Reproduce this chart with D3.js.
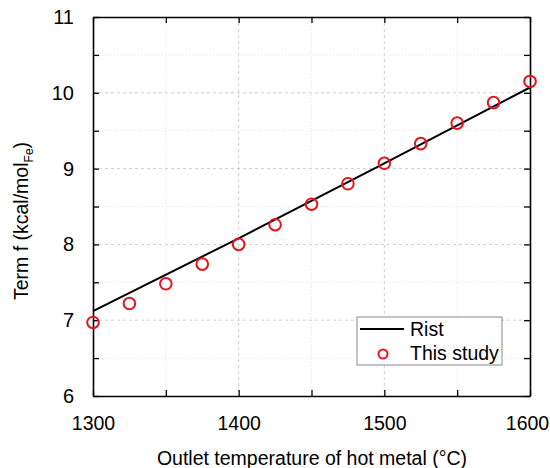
<!DOCTYPE html>
<html><head><meta charset="utf-8">
<script src="https://cdn.jsdelivr.net/npm/d3@7"></script>
<style>body{margin:0;background:#fff}svg text{font-family:"Liberation Sans",Arial,sans-serif}</style>
</head><body><svg id="c" width="550" height="468"></svg>
<script>
const xTicks=[1300,1400,1500,1600];
const yTicks=[6,7,8,9,10,11];
const ristT=[1300,1400,1500,1600];
const ristF=[7.12,8.08,9.07,10.07];
const studyT=[1300,1325,1350,1375,1400,1425,1450,1475,1500,1525,1550,1575,1600];
const studyF=[6.97,7.22,7.48,7.74,8.00,8.26,8.53,8.80,9.07,9.33,9.60,9.87,10.15];

const svg=d3.select("#c");
const L=93,R=530,T=17,B=396;
const x=d3.scaleLinear().domain([1300,1600]).range([L,R]);
const y=d3.scaleLinear().domain([6,11]).range([B,T]);
const g=svg.append("g");
// minor grid
const xMinor=d3.range(1350,1600,100), yMinor=d3.range(6.5,11,1);
g.selectAll(".vm").data(xMinor).join("line").attr("x1",d=>x(d)).attr("x2",d=>x(d)).attr("y1",T).attr("y2",B).attr("stroke","#e6e6e6").attr("stroke-dasharray","1,2");
g.selectAll(".hm").data(yMinor).join("line").attr("y1",d=>y(d)).attr("y2",d=>y(d)).attr("x1",L).attr("x2",R).attr("stroke","#e6e6e6").attr("stroke-dasharray","1,2");
// major grid
g.selectAll(".vM").data(xTicks.slice(1,-1)).join("line").attr("x1",d=>x(d)).attr("x2",d=>x(d)).attr("y1",T).attr("y2",B).attr("stroke","#cfcfcf").attr("stroke-dasharray","3,3");
g.selectAll(".hM").data(yTicks.slice(1,-1)).join("line").attr("y1",d=>y(d)).attr("y2",d=>y(d)).attr("x1",L).attr("x2",R).attr("stroke","#cfcfcf").attr("stroke-dasharray","3,3");

// axes
const xt=d3.range(1300,1601,50), yt=d3.range(6,11.01,0.5);
const ax=(sel)=>sel.selectAll("path").attr("stroke","#000").attr("stroke-width",1.5);
svg.append("g").attr("transform",`translate(0,${B})`).call(d3.axisBottom(x).tickValues(xt).tickSizeInner(-6).tickSizeOuter(0).tickFormat(d=>xTicks.includes(d)?d:"")).call(ax)
 .call(a=>a.selectAll("text").attr("y",20).attr("font-size",19.5).attr("fill","#000").attr("dx",d=>d===1600?-3:0));
svg.append("g").attr("transform",`translate(0,${T})`).call(d3.axisTop(x).tickValues(xt).tickSizeInner(-6).tickSizeOuter(0).tickFormat("")).call(ax);
svg.append("g").attr("transform",`translate(${L},0)`).call(d3.axisLeft(y).tickValues(yt).tickSizeInner(-6).tickSizeOuter(0).tickFormat(d=>Number.isInteger(d)?d:"")).call(ax)
 .call(a=>a.selectAll("text").attr("x",-19).attr("font-size",20).attr("fill","#000"));
svg.append("g").attr("transform",`translate(${R},0)`).call(d3.axisRight(y).tickValues(yt).tickSizeInner(-6).tickSizeOuter(0).tickFormat("")).call(ax);
svg.selectAll(".tick line").attr("stroke","#000").attr("stroke-width",1.3);
svg.selectAll(".domain").attr("stroke-width",1.6);

// rist line
svg.append("path").datum(ristT.map((t,i)=>[t,ristF[i]])).attr("d",d3.line().x(d=>x(d[0])).y(d=>y(d[1])))
 .attr("fill","none").attr("stroke","#000").attr("stroke-width",2);
// study
svg.selectAll(".pt").data(studyT.map((t,i)=>[t,studyF[i]])).join("circle").attr("cx",d=>x(d[0])).attr("cy",d=>y(d[1])).attr("r",5.8)
 .attr("fill","none").attr("stroke","#e3161d").attr("stroke-width",2);

// legend
const lg=svg.append("g");
lg.append("rect").attr("x",357).attr("y",317).attr("width",145).attr("height",48).attr("fill","#fff").attr("stroke","#888").attr("stroke-width",1);
lg.append("line").attr("x1",360).attr("x2",404).attr("y1",329).attr("y2",329).attr("stroke","#000").attr("stroke-width",2);
lg.append("text").attr("x",410).attr("y",336).attr("font-size",19.5).text("Rist");
lg.append("circle").attr("cx",383).attr("cy",354).attr("r",4.5).attr("fill","none").attr("stroke","#e3161d").attr("stroke-width",2);
lg.append("text").attr("x",410).attr("y",360).attr("font-size",19.5).text("This study");

// titles
svg.append("text").attr("x",312).attr("y",465).attr("text-anchor","middle").attr("font-size",19.5).text("Outlet temperature of hot metal (°C)");
const yl=svg.append("text").attr("transform","translate(28,221) rotate(-90)").attr("text-anchor","middle").attr("font-size",19.5);
yl.append("tspan").text("Term f (kcal/mol");
yl.append("tspan").attr("font-size",12).attr("dy",5).text("Fe");
yl.append("tspan").attr("dy",-5).text(")");
</script></body></html>
